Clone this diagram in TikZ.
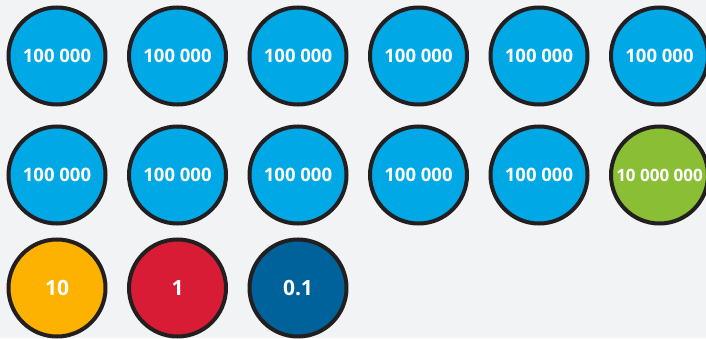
\documentclass[tikz,border=0pt]{standalone}
\usepackage{fontspec}
\setmainfont{Open Sans}
\usetikzlibrary{positioning}
\definecolor{backdrop}{HTML}{F1F3F4}
\definecolor{coinrim}{HTML}{231F20}
\definecolor{coinblue}{HTML}{00A8E6}
\definecolor{coingreen}{HTML}{8ABF35}
\definecolor{coinorange}{HTML}{FDB100}
\definecolor{coinred}{HTML}{D91C35}
\definecolor{coinnavy}{HTML}{00629B}

\begin{document}
\begin{tikzpicture}[node distance=19.5pt]
        % Styles
        \tikzstyle{coin} = [draw=coinrim, circle, line width=4pt, minimum size=97pt, inner sep=0pt, text=white, font=\fontsize{18.5}{22}\selectfont\bfseries]
        \tikzstyle{bluecoin} = [coin, fill=coinblue]
        \tikzstyle{greencoin} = [coin, fill=coingreen, font=\fontsize{17}{20}\selectfont\bfseries]
        \tikzstyle{smallcoin} = [coin, font=\fontsize{21}{24}\selectfont\bfseries]

        % Canvas
        \useasboundingbox[fill=backdrop] (0,0) rectangle (706pt,338pt);
        \clip (0,0) rectangle (706pt,338pt);

        % First row
        \node[bluecoin] (r1c1) at (57pt,282pt) {100 000};
        \node[bluecoin, right=of r1c1] (r1c2) {100 000};
        \node[bluecoin, right=of r1c2] (r1c3) {100 000};
        \node[bluecoin, right=of r1c3] (r1c4) {100 000};
        \node[bluecoin, right=of r1c4] (r1c5) {100 000};
        \node[bluecoin, right=of r1c5] (r1c6) {100 000};

        % Second row
        \node[bluecoin, below=18pt of r1c1] (r2c1) {100 000};
        \node[bluecoin, right=of r2c1] (r2c2) {100 000};
        \node[bluecoin, right=of r2c2] (r2c3) {100 000};
        \node[bluecoin, right=of r2c3] (r2c4) {100 000};
        \node[bluecoin, right=of r2c4] (r2c5) {100 000};
        \node[greencoin, right=of r2c5] (r2c6) {10 000 000};

        % Third row
        \node[smallcoin, fill=coinorange, below=12pt of r2c1] (tens) {10};
        \node[smallcoin, fill=coinred, right=of tens] (ones) {1};
        \node[smallcoin, fill=coinnavy, right=of ones] (tenths) {0.1};
    \end{tikzpicture}
\end{document}
